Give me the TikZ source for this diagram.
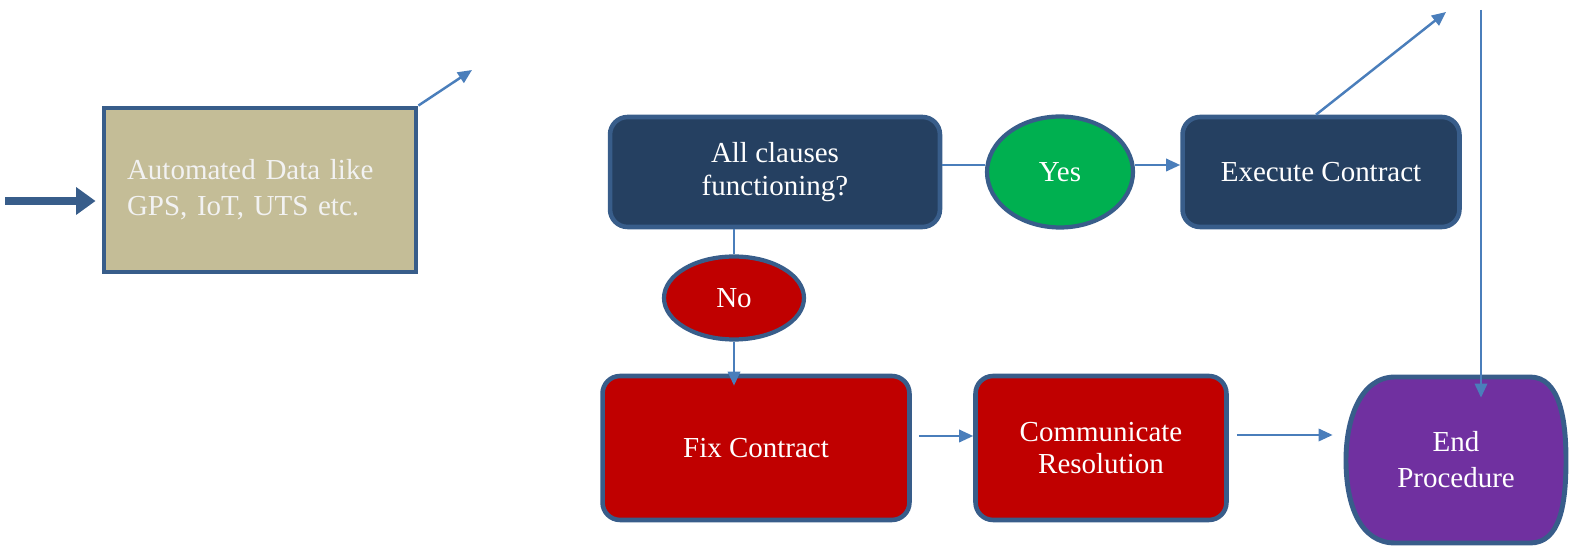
\documentclass[tikz,border=0pt]{standalone}
\usepackage{fontspec}
\setmainfont{Liberation Serif}
\usepackage{xcolor}
\usepackage{tikz}
\usetikzlibrary{shapes,arrows.meta,positioning,calc}
\definecolor{edgeblue}{HTML}{385D8A}
\definecolor{linkblue}{HTML}{4A7EBB}
\definecolor{navy}{HTML}{254061}
\definecolor{tan}{HTML}{C4BD97}
\definecolor{okgreen}{HTML}{00B050}
\definecolor{badred}{HTML}{C00000}
\definecolor{endpurple}{HTML}{7030A0}

\begin{document}
\begin{tikzpicture}[x=0.02cm, y=-0.02cm,
    every node/.style={font=\fontsize{16.5}{18.5}\selectfont, text=white},
    box/.style={draw=edgeblue, line width=2.6pt, rounded corners=10pt, align=center, inner sep=0pt},
    choice/.style={ellipse, draw=edgeblue, line width=2.4pt, inner sep=0pt},
    link/.style={draw=linkblue, line width=1.4pt},
    arr/.style={link, -{Triangle[length=8pt,width=7pt]}}]
    \useasboundingbox (0,0) rectangle (1570,546);

    % Input data
    \node[draw=edgeblue, fill=tan, line width=2.8pt, text=white!95!black,
          minimum width=6.24cm, minimum height=3.28cm, text width=5.32cm,
          inner xsep=0.46cm, align=left,
          font=\fontsize{16.5}{20.5}\selectfont] (auto) at (260,190)
        {Automated Data like\\GPS, IoT, UTS etc.};
    \coordinate (src) at (5,201);
    \draw[edgeblue, line width=4.5pt, -{Triangle[length=11pt,width=15pt]}]
        (src) -- ([xshift=-0.12cm]src -| auto.west);
    \coordinate (autoout) at (472,70);
    \draw[arr] (auto.north east) -- (autoout);

    % Decision
    \node[box, fill=navy, minimum width=6.6cm, minimum height=2.2cm] (clause) at (775,172)
        {All clauses\\functioning?};
    \node[choice, fill=okgreen, minimum width=2.92cm, minimum height=2.22cm] (yes) at (1060,172) {Yes};
    \node[box, fill=navy, minimum width=5.54cm, minimum height=2.2cm] (exec) at (1321,172) {Execute Contract};
    \node[choice, fill=badred, minimum width=2.8cm, minimum height=1.66cm] (no) at (734,298) {No};

    \draw[link] ([yshift=0.14cm]clause.east) -- ([yshift=0.14cm]yes.west);
    \draw[arr] ([yshift=0.14cm]yes.east) -- ([yshift=0.14cm]exec.west);
    \coordinate (execout) at (1446,12);
    \draw[arr] ([xshift=-0.1cm]exec.north) -- (execout);
    \draw[link] (no.north |- clause.south) -- (no.north);

    % Resolution
    \node[box, fill=badred, minimum width=6.14cm, minimum height=2.88cm] (fix) at (756,448) {Fix Contract};
    \node[box, fill=badred, minimum width=5.02cm, minimum height=2.88cm] (comm) at (1101,448)
        {Communicate\\Resolution};
    \draw[draw=edgeblue, fill=endpurple, line width=2.8pt]
        (1395,377) -- (1530,377) .. controls (1560,377) and (1566,420) .. (1566,460)
        .. controls (1566,505) and (1560,543) .. (1530,543) -- (1395,543)
        .. controls (1360,543) and (1346,505) .. (1346,460)
        .. controls (1346,420) and (1360,377) .. (1395,377) -- cycle;
    \node[minimum width=4.4cm, minimum height=2.48cm, align=center,
          font=\fontsize{16.5}{20.5}\selectfont] (endp) at (1456,460)
        {End\\Procedure};

    \draw[arr, shorten >=-0.24cm] (no.south) -- (no.south |- fix.north);
    \draw[arr, shorten <=0.14cm] ([yshift=0.24cm]fix.east) coordinate (f1) -- (f1 -| comm.west);
    \draw[arr, shorten <=0.16cm, shorten >=0.26cm] ([yshift=0.26cm]comm.east) coordinate (c1) -- (c1 -| endp.west);
    \coordinate (endin) at (1481,10);
    \draw[arr] (endin) -- (endin |- endp.north);
\end{tikzpicture}
\end{document}
